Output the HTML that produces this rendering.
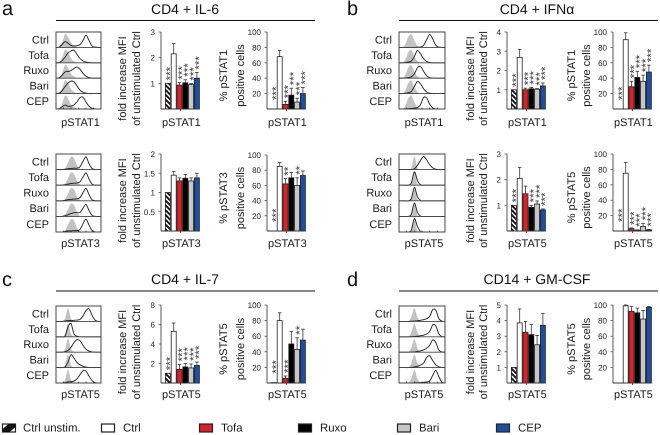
<!DOCTYPE html>
<html lang="en">
<head>
<meta charset="utf-8">
<title>Cytokine-induced STAT phosphorylation</title>
<style>
html,body{margin:0;padding:0;background:#fff;}
svg{display:block;font-family:"Liberation Sans",sans-serif;text-rendering:geometricPrecision;}
</style>
</head>
<body>
<svg id="fig" width="660" height="435" viewBox="0 0 660 435" xmlns="http://www.w3.org/2000/svg">
<defs>
<pattern id="hatch" patternUnits="userSpaceOnUse" width="3.4" height="3.4" patternTransform="rotate(45)">
<rect width="3.4" height="3.4" fill="#fff"/>
<rect width="3.4" height="1.9" fill="#111"/>
</pattern>
</defs>
</svg>
<script>
// ---- categories and shared labels ----
const categories = ['Ctrl unstim.', 'Ctrl', 'Tofa', 'Ruxo', 'Bari', 'CEP'];
const histRows = ['Ctrl', 'Tofa', 'Ruxo', 'Bari', 'CEP'];

// ---- fold increase MFI / % positive values ----
const aStat1Fold = [1, 2.15, 0.93, 1.02, 0.95, 1.2];
const aStat1FoldErr = [0, 0.4, 0.1, 0.12, 0.04, 0.22];
const aStat1FoldStars = ['***', '', '***', '***', '***', '***'];
const aStat1FoldTicks = ['1', '2', '3'];
const aStat1Pct = [0, 68, 6, 18, 9, 20];
const aStat1PctErr = [0, 8, 4, 9, 5, 8];
const aStat1PctStars = ['***', '', '***', '***', '***', '***'];

const aStat3Fold = [1, 1.45, 1.3, 1.37, 1.3, 1.38];
const aStat3FoldErr = [0, 0.1, 0.08, 0.1, 0.08, 0.12];
const aStat3FoldStars = ['', '', '', '', '', ''];
const aStat3FoldTicks = ['0.5', '1', '1.5', '2'];
const aStat3Pct = [0, 85, 62, 70, 60, 73];
const aStat3PctErr = [0, 5, 7, 7, 10, 6];
const aStat3PctStars = ['***', '', '**', '', '**', ''];

const bStat1Fold = [1, 2.68, 1, 1.05, 1.03, 1.2];
const bStat1FoldErr = [0, 0.42, 0.08, 0.07, 0.03, 0.15];
const bStat1FoldStars = ['***', '', '***', '***', '***', '***'];
const bStat1FoldTicks = ['1', '2', '3', '4'];
const bStat1Pct = [0, 90, 29, 41, 36, 48];
const bStat1PctErr = [0, 9, 7, 8, 8, 9];
const bStat1PctStars = ['***', '', '***', '***', '***', '***'];

const bStat5Fold = [1, 2.05, 1.45, 0.92, 1.05, 0.82];
const bStat5FoldErr = [0, 0.43, 0.3, 0.08, 0.12, 0.04];
const bStat5FoldStars = ['***', '', '', '***', '***', '***'];
const bStat5FoldTicks = ['1', '2', '3'];
const bStat5Pct = [0, 75, 3, 1, 6, 1.5];
const bStat5PctErr = [0, 14, 1, 0.5, 4, 0.5];
const bStat5PctStars = ['***', '', '***', '***', '***', '***'];

const cStat5Fold = [1, 5.3, 1.4, 1.65, 1.55, 1.8];
const cStat5FoldErr = [0, 0.85, 0.5, 0.35, 0.4, 0.35];
const cStat5FoldStars = ['***', '', '***', '***', '***', '***'];
const cStat5FoldTicks = ['2', '4', '6', '8'];
const cStat5Pct = [0.5, 80, 6, 50, 43, 55];
const cStat5PctErr = [0, 10, 3, 16, 15, 14];
const cStat5PctStars = ['***', '', '***', '', '**', ''];

const dStat5Fold = [1, 3.85, 3.25, 3.1, 2.45, 3.7];
const dStat5FoldErr = [0, 0.9, 0.7, 0.65, 0.6, 0.75];
const dStat5FoldStars = ['', '', '', '', '', ''];
const dStat5FoldTicks = ['1', '2', '3', '4', '5'];
const dStat5Pct = [0, 99, 92, 90, 82, 97];
const dStat5PctErr = [0, 1, 6, 6, 11, 1];
const dStat5PctStars = ['', '', '', '', '', ''];

const pctTicks = ['20', '40', '60', '80', '100'];

// ---- flow histogram densities (16 evenly spaced channels) ----
const aS1Grey = [0, .02, .35, .95, .75, .32, .12, .03, 0, 0, 0, 0, 0, 0, 0, 0];
const aS1Ctrl = [0, .02, .2, .42, .3, .14, .1, .12, .2, .5, .88, .5, .1, .02, 0, 0];
const aS1Tofa = [0, .02, .15, .4, .7, .85, .9, .6, .3, .14, .05, .02, 0, 0, 0, 0];
const aS1Ruxo = [0, .02, .2, .45, .48, .55, .7, .8, .65, .35, .14, .05, .01, 0, 0, 0];
const aS1Bari = [0, .02, .2, .5, .75, .9, .85, .55, .25, .1, .03, 0, 0, 0, 0, 0];
const aS1Cep = [0, .02, .16, .28, .2, .2, .3, .52, .82, .85, .5, .2, .05, .01, 0, 0];

const aS3Grey = [0, 0, .01, .1, .5, .9, .8, .3, .05, 0, 0, 0, 0, 0, 0, 0];
const aS3Ctrl = [0, 0, 0, .03, .06, .08, .1, .1, .2, .6, .9, .42, .08, .01, 0, 0];
const aS3Tofa = [0, 0, 0, .04, .08, .12, .14, .16, .24, .58, .88, .44, .08, .01, 0, 0];
const aS3Ruxo = [0, 0, 0, .04, .08, .1, .12, .14, .22, .58, .88, .44, .08, .01, 0, 0];
const aS3Bari = [0, 0, 0, .05, .12, .2, .26, .26, .28, .58, .85, .42, .08, .01, 0, 0];
const aS3Cep = [0, 0, 0, .04, .08, .08, .1, .1, .18, .58, .9, .5, .1, .01, 0, 0];

const bS1Grey = [0, 0, .2, .75, .95, .5, .12, .02, 0, 0, 0, 0, 0, 0, 0, 0];
const bS1Ctrl = [0, 0, 0, 0, 0, 0, .01, .03, .14, .55, .92, .6, .15, .02, 0, 0];
const bS1Tofa = [0, 0, .02, .05, .12, .45, .88, .65, .3, .1, .02, 0, 0, 0, 0, 0];
const bS1Ruxo = [0, 0, .02, .05, .1, .3, .75, .85, .5, .18, .04, .01, 0, 0, 0, 0];
const bS1Bari = [0, 0, .02, .06, .15, .5, .88, .7, .35, .12, .03, 0, 0, 0, 0, 0];
const bS1Cep = [0, 0, .01, .02, .04, .06, .1, .3, .82, .8, .35, .08, .01, 0, 0, 0];

const bS5Grey = [0, 0, 0, 0, .1, .95, .1, 0, 0, 0, 0, 0, 0, 0, 0, 0];
const bS5Ctrl = [0, 0, 0, 0, 0, .05, .3, .65, .92, .7, .35, .12, .03, 0, 0, 0];
const bS5Tofa = [0, 0, 0, 0, .15, .95, .35, .03, 0, 0, 0, 0, 0, 0, 0, 0];
const bS5Ruxo = [0, 0, 0, 0, .15, .95, .3, .02, 0, 0, 0, 0, 0, 0, 0, 0];
const bS5Bari = [0, 0, 0, 0, .15, .95, .3, .02, 0, 0, 0, 0, 0, 0, 0, 0];
const bS5Cep = [0, 0, 0, 0, .12, .95, .4, .04, 0, 0, 0, 0, 0, 0, 0, 0];

const cS5Grey = [0, 0, 0, .2, .95, .2, .01, 0, 0, 0, 0, 0, 0, 0, 0, 0];
const cS5Ctrl = [0, 0, 0, .02, .06, .06, .08, .1, .14, .4, .78, .9, .45, .1, .01, 0];
const cS5Tofa = [0, 0, 0, .04, .7, .95, .2, .04, 0, 0, 0, 0, 0, 0, 0, 0];
const cS5Ruxo = [0, 0, 0, .04, .12, .35, .7, .9, .82, .5, .22, .08, .02, 0, 0, 0];
const cS5Bari = [0, 0, 0, .04, .4, .92, .68, .36, .2, .1, .04, .01, 0, 0, 0, 0];
const cS5Cep = [0, 0, 0, .03, .08, .1, .14, .3, .6, .88, .85, .5, .18, .03, 0, 0];

const dS5Grey = [0, 0, 0, 0, .3, .95, .3, .02, 0, 0, 0, 0, 0, 0, 0, 0];
const dS5Ctrl = [0, 0, 0, 0, .01, .02, .04, .08, .12, .2, .35, .85, .8, .2, .02, 0];
const dS5Tofa = [0, 0, 0, 0, .01, .02, .04, .08, .12, .2, .38, .85, .78, .2, .02, 0];
const dS5Ruxo = [0, 0, 0, 0, .01, .02, .05, .1, .16, .28, .5, .88, .7, .15, .02, 0];
const dS5Bari = [0, 0, 0, 0, .02, .05, .1, .18, .32, .72, .85, .5, .2, .06, .01, 0];
const dS5Cep = [0, 0, 0, 0, 0, .01, .02, .03, .05, .08, .14, .55, .9, .45, .05, 0];

// ---- palette ----
const barFills = ['url(#hatch)', '#ffffff', '#d9232b', '#000000', '#c6c6c6', '#1d4f9f'];

const svg = document.getElementById('fig');
const NS = 'http://www.w3.org/2000/svg';

function mk(tag, attrs, parent) {
  const e = document.createElementNS(NS, tag);
  for (const k in attrs) e.setAttribute(k, attrs[k]);
  parent.appendChild(e);
  return e;
}
function group(name, parent) {
  const g = mk('g', {}, parent);
  
  
  return g;
}
function label(str, x, y, attrs, name, parent) {
  const t = mk('text', Object.assign({ x: x, y: y, 'font-size': 11, fill: '#1a1a1a' }, attrs), parent);
  t.textContent = str;
  
  
  return t;
}
function line(x1, y1, x2, y2, stroke, w, name, parent) {
  const l = mk('line', { x1: x1, y1: y1, x2: x2, y2: y2, stroke: stroke, 'stroke-width': w }, parent);
  
  
  return l;
}

// Smooth curve through a density array
function curvePath(vals, xOf, yOf) {
  const pts = vals.map((v, i) => [xOf(i), yOf(v)]);
  let d = 'M' + pts[0][0].toFixed(2) + ' ' + pts[0][1].toFixed(2);
  for (let i = 0; i < pts.length - 1; i++) {
    const p0 = pts[Math.max(0, i - 1)], p1 = pts[i], p2 = pts[i + 1], p3 = pts[Math.min(pts.length - 1, i + 2)];
    const c1x = p1[0] + (p2[0] - p0[0]) / 6, c1y = p1[1] + (p2[1] - p0[1]) / 6;
    const c2x = p2[0] - (p3[0] - p1[0]) / 6, c2y = p2[1] - (p3[1] - p1[1]) / 6;
    d += 'C' + c1x.toFixed(2) + ' ' + c1y.toFixed(2) + ' ' + c2x.toFixed(2) + ' ' + c2y.toFixed(2) + ' ' + p2[0].toFixed(2) + ' ' + p2[1].toFixed(2);
  }
  return d;
}

function histogram(prefix, x, top, height, width, grey, curves, xLabel, labelY) {
  const g = group(prefix + '-histogram', svg);
  const rowH = height / histRows.length;
  const xOf = i => x + i * width / (grey.length - 1);
  curves.forEach((vals, r) => {
    const base = top + (r + 1) * rowH;
    const yOf = v => base - v * (rowH - 1.5);
    const fill = mk('path', { d: curvePath(grey, xOf, yOf) + 'Z', fill: '#c2c2c2', stroke: 'none' }, g);
    
    
    const path = mk('path', { d: curvePath(vals, xOf, yOf), fill: 'none', stroke: '#1c1c1c', 'stroke-width': 0.9 }, g);
    
    
    label(histRows[r], x - 7, top + r * rowH + 11.4, { 'text-anchor': 'end' }, 'row-label-' + histRows[r].toLowerCase(), g);
    if (r < curves.length - 1) line(x, base, x + width, base, '#444', 0.9, 'row-separator', g);
  });
  const box = mk('rect', { x: x, y: top, width: width, height: height, fill: 'none', stroke: '#444', 'stroke-width': 1 }, g);
  
  
  for (let i = 1; i < 6; i++) {
    line(x + i * width / 6, top + height, x + i * width / 6, top + height - 1.5, '#222', 0.7, 'histogram-tick', g);
  }
  label(xLabel, x + width / 2 + 2, labelY, { 'text-anchor': 'middle' }, 'histogram-x-label', g);
}

function barChart(name, axisX, top, bottom, maxVal, tickVals, tickLabels, values, errs, stars, xLabel, labelY, title1, title2, tx1, tx2, tOff) {
  const g = group(name, svg);
  const bw = 5.8;
  const yOf = v => bottom - (v / maxVal) * (bottom - top);
  const xOf = i => axisX + 4 + i * bw;
  const right = xOf(values.length);

  values.forEach((v, i) => {
    const catName = categories[i].toLowerCase().replace(/[^a-z]+/g, '-').replace(/-$/, '');
    if (errs[i] > 0) {
      const cx = xOf(i) + bw / 2;
      const etop = yOf(v + errs[i]);
      line(cx, yOf(v), cx, etop, '#333', 0.8, 'error-bar-' + catName, g);
      line(cx - 1.8, etop, cx + 1.8, etop, '#333', 0.8, 'error-cap-' + catName, g);
    }
    if (v > 0) {
      const r = mk('rect', { x: xOf(i) + 0.4, y: yOf(v), width: bw - 0.8, height: bottom - yOf(v), fill: barFills[i], stroke: '#222', 'stroke-width': 0.8 }, g);
      
      
    }
    if (stars[i]) {
      const cx = xOf(i) + bw / 2;
      const topVal = yOf(v + errs[i]);
      const sy = (v < 1 && errs[i] === 0) ? topVal - 9 : topVal - 3;
      const bx = cx + 6.3;
      const s = label(stars[i], bx, sy, { 'font-size': 11.5, fill: '#3a3a3a', transform: 'rotate(-90 ' + bx + ' ' + sy + ')' }, 'significance-stars-' + catName, g);
      s.setAttribute('text-anchor', 'start');
    }
  });

  line(axisX, top, axisX, bottom, '#666', 1.1, 'y-axis', g);
  line(axisX, bottom, right, bottom, '#333', 1, 'x-axis', g);
  line((axisX + right) / 2, bottom, (axisX + right) / 2, bottom + 2, '#333', 0.8, 'x-axis-tick', g);
  tickVals.forEach((v, i) => {
    const y = yOf(v);
    line(axisX - 2.5, y, axisX, y, '#555', 0.8, 'y-tick', g);
    label(tickLabels[i], axisX - 6, y + 3, { 'font-size': 8, 'text-anchor': 'end', fill: '#222' }, 'y-tick-label', g);
  });

  label(xLabel, (axisX + right) / 2 + 1, labelY, { 'text-anchor': 'middle' }, 'x-axis-label', g);
  const cy = (top + bottom) / 2 + tOff;
  label(title1, tx1, cy, { 'text-anchor': 'middle', transform: 'rotate(-90 ' + tx1 + ' ' + cy + ')' }, 'y-axis-title', g);
  label(title2, tx2, cy, { 'text-anchor': 'middle', transform: 'rotate(-90 ' + tx2 + ' ' + cy + ')' }, 'y-axis-title-second-line', g);
}

const pctVals = pctTicks.map(Number);
const foldA = 'fold increase MFI', foldB = 'of unstimulated Ctrl', positive = 'positive cells';

function numTicks(labels) { return labels.map(Number); }

// ---- panel titles ----
function panelHead(letter, letterX, letterY, title, titleX, titleY, ruleX1, ruleX2, ruleY) {
  const g = group('panel-' + letter + '-header', svg);
  label(letter, letterX, letterY, { 'font-size': 20, fill: '#111' }, 'panel-letter-' + letter, g);
  label(title, titleX, titleY, { 'font-size': 14, 'text-anchor': 'middle', fill: '#111' }, 'panel-title-' + letter, g);
  line(ruleX1, ruleY, ruleX2, ruleY, '#111', 1.1, 'panel-rule-' + letter, g);
}
panelHead('a', 2, 15, 'CD4 + IL-6', 185, 14, 56, 315, 20.5);
panelHead('b', 347, 15, 'CD4 + IFNα', 537, 14, 399, 658, 20.5);
panelHead('c', 2, 286, 'CD4 + IL-7', 185, 284, 56, 315, 291);
panelHead('d', 347, 286, 'CD14 + GM-CSF', 537, 284, 399, 658, 291);

// ---- histograms ----
histogram('a-pstat1', 56, 32, 77, 45, aS1Grey, [aS1Ctrl, aS1Tofa, aS1Ruxo, aS1Bari, aS1Cep], 'pSTAT1', 126);
histogram('a-pstat3', 56, 154, 78, 45, aS3Grey, [aS3Ctrl, aS3Tofa, aS3Ruxo, aS3Bari, aS3Cep], 'pSTAT3', 247);
histogram('b-pstat1', 399, 32, 77, 46, bS1Grey, [bS1Ctrl, bS1Tofa, bS1Ruxo, bS1Bari, bS1Cep], 'pSTAT1', 126);
histogram('b-pstat5', 399, 154, 78, 46, bS5Grey, [bS5Ctrl, bS5Tofa, bS5Ruxo, bS5Bari, bS5Cep], 'pSTAT5', 247);
histogram('c-pstat5', 56, 306, 77, 45, cS5Grey, [cS5Ctrl, cS5Tofa, cS5Ruxo, cS5Bari, cS5Cep], 'pSTAT5', 398);
histogram('d-pstat5', 399, 306, 77, 46, dS5Grey, [dS5Ctrl, dS5Tofa, dS5Ruxo, dS5Bari, dS5Cep], 'pSTAT5', 398);

// ---- bar charts ----
barChart('a-pstat1-fold-chart', 161, 32, 109, 3, numTicks(aStat1FoldTicks), aStat1FoldTicks, aStat1Fold, aStat1FoldErr, aStat1FoldStars, 'pSTAT1', 126, foldA, foldB, 126, 140, 8);
barChart('a-pstat1-percent-chart', 267, 32, 109, 100, pctVals, pctTicks, aStat1Pct, aStat1PctErr, aStat1PctStars, 'pSTAT1', 126, '% pSTAT1', positive, 227, 244, 5);
barChart('a-pstat3-fold-chart', 161, 154, 231, 2, numTicks(aStat3FoldTicks), aStat3FoldTicks, aStat3Fold, aStat3FoldErr, aStat3FoldStars, 'pSTAT3', 247, foldA, foldB, 126, 140, 8);
barChart('a-pstat3-percent-chart', 267, 155, 231, 100, pctVals, pctTicks, aStat3Pct, aStat3PctErr, aStat3PctStars, 'pSTAT3', 247, '% pSTAT3', positive, 227, 244, 5);

barChart('b-pstat1-fold-chart', 507, 32, 109, 4, numTicks(bStat1FoldTicks), bStat1FoldTicks, bStat1Fold, bStat1FoldErr, bStat1FoldStars, 'pSTAT1', 126, foldA, foldB, 474, 487, 8);
barChart('b-pstat1-percent-chart', 613, 32, 109, 100, pctVals, pctTicks, bStat1Pct, bStat1PctErr, bStat1PctStars, 'pSTAT1', 126, '% pSTAT1', positive, 575, 590, 5);
barChart('b-pstat5-fold-chart', 507, 154, 231, 3, numTicks(bStat5FoldTicks), bStat5FoldTicks, bStat5Fold, bStat5FoldErr, bStat5FoldStars, 'pSTAT5', 247, foldA, foldB, 474, 487, 8);
barChart('b-pstat5-percent-chart', 613, 154, 231, 100, pctVals, pctTicks, bStat5Pct, bStat5PctErr, bStat5PctStars, 'pSTAT5', 247, '% pSTAT5', positive, 575, 590, 5);

barChart('c-pstat5-fold-chart', 161, 305, 383, 8, numTicks(cStat5FoldTicks), cStat5FoldTicks, cStat5Fold, cStat5FoldErr, cStat5FoldStars, 'pSTAT5', 398, foldA, foldB, 126, 140, 8);
barChart('c-pstat5-percent-chart', 267, 305, 383, 100, pctVals, pctTicks, cStat5Pct, cStat5PctErr, cStat5PctStars, 'pSTAT5', 398, '% pSTAT5', positive, 227, 244, 5);
barChart('d-pstat5-fold-chart', 507, 305, 383, 5, numTicks(dStat5FoldTicks), dStat5FoldTicks, dStat5Fold, dStat5FoldErr, dStat5FoldStars, 'pSTAT5', 398, foldA, foldB, 474, 487, 8);
barChart('d-pstat5-percent-chart', 613, 305, 383, 100, pctVals, pctTicks, dStat5Pct, dStat5PctErr, dStat5PctStars, 'pSTAT5', 398, '% pSTAT5', positive, 575, 590, 5);

// ---- legend ----
const legend = group('legend', svg);
function legendEntry(i, sx, tx) {
  const catName = categories[i].toLowerCase().replace(/[^a-z]+/g, '-').replace(/-$/, '');
  const fill = i === 0 ? '#ffffff' : barFills[i];
  const s = mk('rect', { x: sx, y: 424, width: 13, height: 8, fill: fill, stroke: '#222', 'stroke-width': 1.2 }, legend);
  
  
  if (i === 0) {
    const band = mk('polygon', { points: [sx, 432, sx, 429, sx + 6, 424, sx + 13, 424, sx + 13, 427, sx + 7, 432].join(' '), fill: '#111' }, legend);
    
    
  }
  label(categories[i], tx, 431.5, { 'font-size': 11.4 }, 'legend-label-' + catName, legend);
}
legendEntry(0, 2.5, 23);
legendEntry(1, 101.5, 123);
legendEntry(2, 199.5, 221);
legendEntry(3, 298.5, 320);
legendEntry(4, 397.5, 419);
legendEntry(5, 496.5, 518);
</script>
</body>
</html>
